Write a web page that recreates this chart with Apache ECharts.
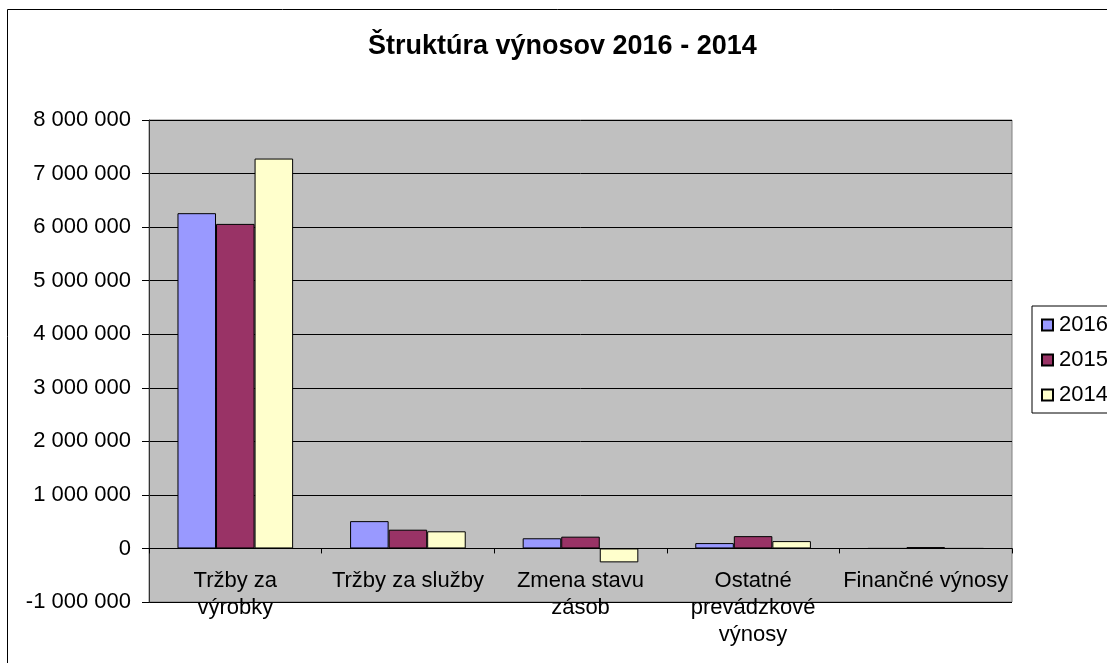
<!DOCTYPE html>
<html>
<head>
<meta charset="utf-8">
<script src="https://cdn.jsdelivr.net/npm/echarts@6/dist/echarts.min.js"></script>
<style>
	html, body { margin: 0; padding: 0; background: #fff; }
	#chart { width: 1107px; height: 663px; }
</style>
</head>
<body>
<div id="chart"></div>
<script>
// Categories and values
const categories = ['Tržby za\nvýrobky', 'Tržby za služby', 'Zmena stavu\nzásob', 'Ostatné\nprevádzkové\nvýnosy', 'Finančné výnosy']
const years = ['2016', '2015', '2014']
const values2016 = [6260000, 510000, 190000, 100000, 0]
const values2015 = [6060000, 350000, 220000, 230000, 25000]
const values2014 = [7280000, 320000, -260000, 137000, 0]
const colors = ['#9999ff', '#993366', '#ffffcc']

const font = '"Liberation Sans", Arial, sans-serif'

const formatNumber = (v) => {
	const s = Math.abs(v).toString().replace(/\B(?=(\d{3})+(?!\d))/g, ' ')
	return (v < 0 ? '-' : '') + s
}

const chart = echarts.init(document.getElementById('chart'))

const seriesData = [values2016, values2015, values2014]
const series = years.map((y, i) => ({
	name: y,
	type: 'bar',
	data: seriesData[i],
	barGap: '0%',
	barCategoryGap: '33%',
	itemStyle: {
		color: colors[i],
		borderColor: '#000',
		borderWidth: 1
	}
}))

const option = {
	animation: false,
	textStyle: { fontFamily: font },
	title: {
		text: 'Štruktúra výnosov 2016 - 2014',
		left: 368,
		top: 33,
		padding: 0,
		textStyle: {
			fontFamily: font,
			fontSize: 27,
			fontWeight: 'bold',
			color: '#000'
		}
	},
	graphic: [{
		type: 'rect',
		shape: { x: 7.5, y: 9.5, width: 1300, height: 800 },
		style: { fill: 'none', stroke: '#000', lineWidth: 1 },
		silent: true,
		z: -1
	}],
	legend: {
		orient: 'vertical',
		left: 1032,
		top: 306,
		data: years,
		itemWidth: 11,
		itemHeight: 11,
		itemGap: 13,
		padding: [8, 80, 7, 9],
		borderColor: '#000',
		borderWidth: 1,
		icon: 'rect',
		textStyle: {
			fontFamily: font,
			fontSize: 22,
			color: '#000',
			padding: [0, 0, 0, 1]
		}
	},
	grid: {
		left: 149,
		top: 120,
		right: 95,
		bottom: 61,
		outerBoundsMode: 'none',
		show: true,
		backgroundColor: '#c0c0c0',
		borderColor: '#808080',
		borderWidth: 1
	},
	xAxis: {
		type: 'category',
		data: categories,
		axisLine: { onZero: true, lineStyle: { color: '#000', width: 1 } },
		axisTick: { show: true, length: 5, lineStyle: { color: '#000' } },
		axisLabel: {
			interval: 0,
			margin: -35,
			fontFamily: font,
			fontSize: 22,
			lineHeight: 27,
			color: '#000'
		}
	},
	yAxis: {
		type: 'value',
		min: -1000000,
		max: 8000000,
		interval: 1000000,
		axisLine: { show: true, lineStyle: { color: '#333' } },
		axisTick: { show: true, length: 7, lineStyle: { color: '#000' } },
		splitLine: { lineStyle: { color: '#000', width: 1 } },
		axisLabel: {
			margin: 18,
			fontFamily: font,
			fontSize: 22,
			color: '#000',
			formatter: formatNumber
		}
	},
	series: series
}

chart.setOption(option)
</script>
</body>
</html>
